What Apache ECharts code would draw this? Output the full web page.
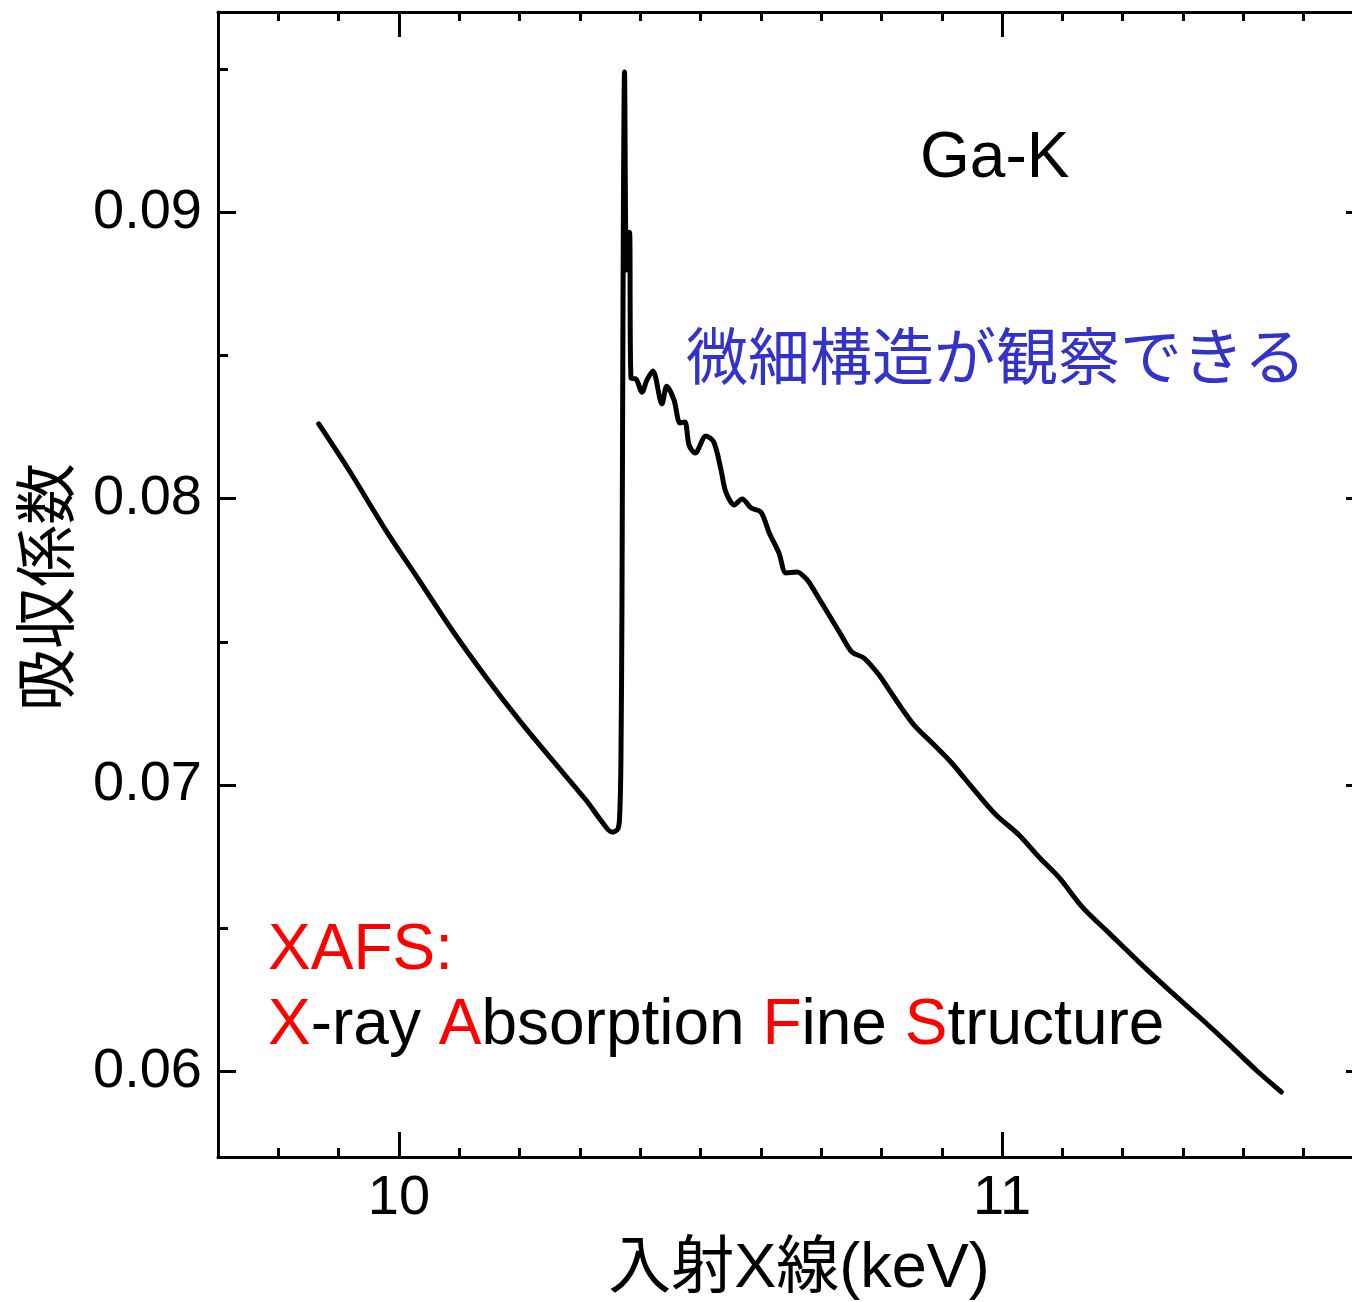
<!DOCTYPE html>
<html>
<head>
<meta charset="utf-8">
<title>Ga-K XAFS</title>
<script src="https://cdn.jsdelivr.net/npm/echarts@6/dist/echarts.min.js"></script>
<style>
  html, body { margin: 0; padding: 0; background: #fff; }
  #chart { width: 1352px; height: 1302px; }
</style>
</head>
<body>
<div id="chart"></div>
<script>
// Ga K-edge absorption spectrum

// incident X-ray energy (keV)
const energy = [
    9.867, 9.917, 9.978, 10.033, 10.088, 10.144, 10.199, 10.254, 10.310, 10.337,
    10.353, 10.363, 10.366, 10.368, 10.3698, 10.3715, 10.374, 10.3773, 10.3823, 10.3847,
    10.393, 10.403, 10.411, 10.421, 10.436, 10.444, 10.456, 10.466, 10.474, 10.481,
    10.491, 10.509, 10.522, 10.534, 10.542, 10.556, 10.569, 10.584, 10.600, 10.614,
    10.630, 10.642, 10.660, 10.677, 10.685, 10.701, 10.718, 10.733, 10.751, 10.771,
    10.796, 10.813, 10.833, 10.854, 10.884, 10.915, 10.940, 10.965, 10.990, 11.028,
    11.061, 11.095, 11.133, 11.177, 11.227, 11.277, 11.327, 11.381, 11.421, 11.463
];

// absorption coefficient
const absorption = [
    0.08261, 0.0810, 0.0789, 0.07716, 0.07541, 0.07377, 0.07227, 0.07087, 0.06947, 0.0687,
    0.06835, 0.06846, 0.06895, 0.07082, 0.07646, 0.08694, 0.0949, 0.08799, 0.08931, 0.08421,
    0.08418, 0.08372, 0.08414, 0.08446, 0.08331, 0.08393, 0.08345, 0.08264, 0.08268, 0.08187,
    0.08159, 0.08219, 0.08198, 0.0810, 0.08023, 0.07978, 0.07999, 0.07967, 0.07953, 0.0788,
    0.0781, 0.0774, 0.07744, 0.07716, 0.07691, 0.07635, 0.07576, 0.07524, 0.07464, 0.07443,
    0.07384, 0.07331, 0.07269, 0.07209, 0.07146, 0.0708, 0.07017, 0.06954, 0.06895, 0.06825,
    0.06748, 0.06675, 0.06573, 0.06483, 0.06381, 0.06283, 0.06189, 0.06084, 0.06004, 0.05927
];

// tick positions
const xMajorTicks = [10, 11];
const xMinorTicks = [9.8, 9.9, 10.1, 10.2, 10.3, 10.4, 10.5, 10.6, 10.7, 10.8, 10.9,
                     11.1, 11.2, 11.3, 11.4, 11.5];
const yMajorTicks = [0.06, 0.07, 0.08, 0.09];
const yMinorTicks = [0.065, 0.075, 0.085, 0.095];

const xRange = [9.7, 11.6];
const yRange = [0.057, 0.097];

const FONT = '"Liberation Sans", "Noto Sans CJK JP", Arial, sans-serif';

function makeAxis(dim, position, ticks, tickLength, withLabels, withLine) {
    const range = dim === 'x' ? xRange : yRange;
    return {
        type: 'value',
        position: position,
        min: range[0],
        max: range[1],
        splitLine: { show: false },
        axisLine: {
            show: withLine,
            onZero: false,
            lineStyle: { color: '#000', width: 3 }
        },
        axisTick: {
            show: true,
            inside: true,
            length: tickLength,
            customValues: ticks,
            lineStyle: { color: '#000', width: 3 }
        },
        axisLabel: {
            show: withLabels,
            customValues: ticks,
            color: '#000',
            fontFamily: FONT,
            fontSize: 56,
            margin: dim === 'x' ? 14 : 16,
            formatter: v => dim === 'x' ? String(Math.round(v)) : v.toFixed(2)
        }
    };
}

const chart = echarts.init(document.getElementById('chart'));

const option = {
    animation: false,
    backgroundColor: '#fff',
    // the right frame edge sits just outside the picture, as in the original
    grid: { left: 218, top: 12, width: 1146, height: 1145, outerBoundsMode: 'none', containLabel: false },
    xAxis: [
        makeAxis('x', 'bottom', xMajorTicks, 25, true, true),
        makeAxis('x', 'bottom', xMinorTicks, 9, false, false),
        makeAxis('x', 'top', xMajorTicks, 25, false, true),
        makeAxis('x', 'top', xMinorTicks, 9, false, false)
    ],
    yAxis: [
        makeAxis('y', 'left', yMajorTicks, 18, true, true),
        makeAxis('y', 'left', yMinorTicks, 10, false, false),
        makeAxis('y', 'right', yMajorTicks, 18, false, true),
        makeAxis('y', 'right', yMinorTicks, 10, false, false)
    ],
    series: [{
        type: 'line',
        xAxisIndex: 0,
        yAxisIndex: 0,
        data: energy.map((e, i) => [e, absorption[i]]),
        showSymbol: false,
        smooth: 0.3,
        clip: false,
        lineStyle: { color: '#000', width: 5, cap: 'round', join: 'round' }
    }],
    graphic: [
        {
            type: 'text', x: 920, y: 159,
            style: { text: 'Ga-K', font: '64px ' + FONT, fill: '#000', align: 'left', verticalAlign: 'middle' }
        },
        {
            type: 'text', x: 686, y: 363,
            style: { text: '微細構造が観察できる', font: '62px ' + FONT, fill: '#3333cc', align: 'left', verticalAlign: 'middle' }
        },
        {
            type: 'text', x: 268, y: 951,
            style: { text: 'XAFS:', font: '64px ' + FONT, fill: '#ff0000', align: 'left', verticalAlign: 'middle' }
        },
        {
            type: 'text', x: 268, y: 1026,
            style: {
                text: '{r|X}-ray {r|A}bsorption {r|F}ine {r|S}tructure',
                font: '64px ' + FONT,
                fill: '#000',
                align: 'left',
                verticalAlign: 'middle',
                rich: { r: { fill: '#ff0000', font: '64px ' + FONT } }
            }
        },
        {
            type: 'text', x: 52, y: 587, rotation: Math.PI / 2,
            style: { text: '吸収係数', font: '62px ' + FONT, fill: '#000', align: 'center', verticalAlign: 'middle' }
        },
        {
            type: 'text', x: 799, y: 1270,
            style: { text: '入射X線(keV)', font: '63px ' + FONT, fill: '#000', align: 'center', verticalAlign: 'middle' }
        }
    ]
};

chart.setOption(option);
</script>
</body>
</html>
